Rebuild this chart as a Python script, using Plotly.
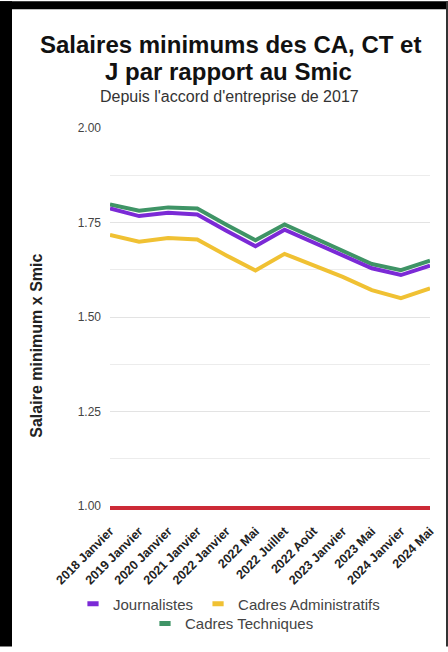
import plotly.graph_objects as go

# ---- data ----
categories = ["2018 Janvier", "2019 Janvier", "2020 Janvier", "2021 Janvier",
              "2022 Janvier", "2022 Mai", "2022 Juillet", "2022 Août",
              "2023 Janvier", "2023 Mai", "2024 Janvier", "2024 Mai"]
journalistes = [1.787, 1.767, 1.776, 1.771, 1.728, 1.687, 1.731, 1.697, 1.663, 1.629, 1.611, 1.636]
cadres_admin = [1.717, 1.699, 1.709, 1.705, 1.663, 1.623, 1.667, 1.636, 1.606, 1.571, 1.550, 1.576]
cadres_tech = [1.798, 1.781, 1.790, 1.787, 1.744, 1.703, 1.745, 1.710, 1.677, 1.640, 1.624, 1.649]
series_names = ["Journalistes", "Cadres Administratifs", "Cadres Techniques"]
smic_ratio = 1.00
y_range = [1.00, 2.00]

# ---- styles ----
W, H = 448, 652
ML, MR, MT, MB = 110, 18, 128, 142
PW, PH = W - ML - MR, H - MT - MB
FONT = "Arial, Liberation Sans, sans-serif"
C_J, C_A, C_T = "#7b2ad6", "#f0c133", "#3f9466"
C_RED = "#cc2a36"


def px_x(px):
    return (px - ML) / PW


def px_y(py):
    return (H - MB - py) / PH


fig = go.Figure()
# data lines (draw order: green, yellow, purple on top)
for name, vals, col in [(series_names[2], cadres_tech, C_T),
                        (series_names[1], cadres_admin, C_A),
                        (series_names[0], journalistes, C_J)]:
    fig.add_trace(go.Scatter(x=categories, y=vals, mode="lines", name=name,
                             line=dict(color=col, width=4), showlegend=False,
                             hoverinfo="x+y+name"))

# legend entries (short thick swatches)
for name, col, lg in [(series_names[0], C_J, "legend"),
                      (series_names[1], C_A, "legend"),
                      (series_names[2], C_T, "legend2")]:
    fig.add_trace(go.Scatter(x=[None], y=[None], mode="markers", name=name,
                             marker=dict(symbol="line-ew", size=8, color=col,
                                         line=dict(color=col, width=5)),
                             legend=lg, showlegend=True))

annotations = [
    dict(text="Salaires minimums des CA, CT et", x=px_x(230), y=px_y(44),
         font=dict(size=24, color="#111", family=FONT, weight="bold")),
    dict(text="J par rapport au Smic", x=px_x(228), y=px_y(71),
         font=dict(size=24, color="#111", family=FONT, weight="bold")),
    dict(text="Depuis l'accord d'entreprise de 2017", x=px_x(229), y=px_y(96),
         font=dict(size=16, color="#333", family=FONT)),
    dict(text="Salaire minimum x Smic", x=px_x(37), y=px_y(348), textangle=-90,
         font=dict(size=16, color="#222", family=FONT, weight="bold")),
]
for a in annotations:
    a.update(xref="paper", yref="paper", showarrow=False,
             xanchor="center", yanchor="middle")

shapes = [
    dict(type="rect", xref="paper", yref="paper", x0=px_x(0), x1=px_x(12),
         y0=px_y(H), y1=px_y(0), fillcolor="black", line=dict(width=0), layer="above"),
    dict(type="rect", xref="paper", yref="paper", x0=px_x(0), x1=px_x(W),
         y0=px_y(8), y1=px_y(0), fillcolor="black", line=dict(width=0), layer="above"),
    dict(type="rect", xref="paper", yref="paper", x0=px_x(446), x1=px_x(W),
         y0=px_y(H), y1=px_y(0), fillcolor="#333", line=dict(width=0), layer="above"),
]

fig.update_layout(
    width=W, height=H,
    margin=dict(l=ML, r=MR, t=MT, b=MB),
    paper_bgcolor="white", plot_bgcolor="white",
    font=dict(family=FONT, color="#333"),
    annotations=annotations,
    shapes=shapes,
    legend=dict(orientation="h", x=px_x(229), xanchor="center", y=px_y(609),
                yanchor="middle", font=dict(size=15, color="#444", family=FONT),
                bgcolor="rgba(0,0,0,0)", itemwidth=30),
    legend2=dict(orientation="h", x=px_x(232), xanchor="center", y=px_y(629),
                 yanchor="middle", font=dict(size=15, color="#444", family=FONT),
                 bgcolor="rgba(0,0,0,0)", itemwidth=30),
    xaxis=dict(type="category", showgrid=False, showline=True, linecolor=C_RED,
               linewidth=4, tickangle=-45, ticks="", zeroline=False,
               ticklabelstandoff=9,
               tickfont=dict(size=12.5, color="#222", family=FONT, weight="bold")),
    yaxis=dict(range=y_range, dtick=0.25, tick0=1.0, tickformat=".2f",
               showgrid=True, gridcolor="#e3e3e3", gridwidth=1, zeroline=False,
               ticks="", ticklabelstandoff=8, showline=False,
               tickfont=dict(size=12, color="#444", family=FONT),
               minor=dict(dtick=0.125, showgrid=True, gridcolor="#ececec", gridwidth=1)),
    hovermode="closest",
)

fig.write_html("out.html")
